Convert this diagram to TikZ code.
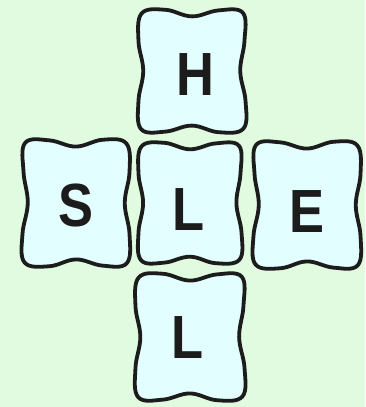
\documentclass[tikz,border=0pt]{standalone}
\usepackage{fontspec}
\setmainfont{Liberation Sans}
\definecolor{bgc}{RGB}{224,251,224}
\definecolor{boxc}{RGB}{226,254,255}
\definecolor{inkc}{RGB}{28,28,28}
\tikzset{
  boxline/.style={draw=inkc, fill=boxc, line width=3.8pt, line join=round},
  letter/.style={inner sep=0pt, anchor=base, text=inkc, font=\fontsize{61}{61}\selectfont\bfseries}
}
\newcommand\ltr[1]{\scalebox{0.86}[1]{#1}}
\newcommand\wavyshape[5]{% cx, cy, hw, hh, flip
  \begin{scope}[shift={(#1,#2)}, xscale=#5*#3, yscale=#4]
    \draw[boxline] plot[smooth cycle, tension=0.65] coordinates {
      (-0.95,-0.96) (-0.5,-1.02) (0.0,-0.91) (0.5,-1.01) (0.96,-0.97)
      (0.99,-0.5) (0.91,0.0) (1.01,0.5) (0.97,0.96)
      (0.5,1.02) (0.0,0.91) (-0.5,1.01) (-0.96,0.97)
      (-1.01,0.5) (-0.92,0.0) (-1.01,-0.5)};
  \end{scope}}
\begin{document}
\begin{tikzpicture}[x=1pt, y=-1pt]
  \useasboundingbox (0,0) rectangle (365,407);
  \fill[bgc] (0,0) rectangle (365,407);
  % boxes
  \wavyshape{192}{71}{53}{60}{1}
  \wavyshape{76}{203}{53}{62}{-1}
  \wavyshape{190}{203}{51}{59}{1}
  \wavyshape{307}{205}{53}{62}{-1}
  \wavyshape{190}{337}{54}{62}{1}
  % letters
  \node[letter] (h) at (195,95) {\ltr{H}};
  \node[letter] (s) at (76,226) {\ltr{S}};
  \node[letter] (l1) at (189,230) {\ltr{L}};
  \node[letter] (e) at (307,232) {\ltr{E}};
  \node[letter] (l2) at (188,358) {\ltr{L}};
\end{tikzpicture}
\end{document}
